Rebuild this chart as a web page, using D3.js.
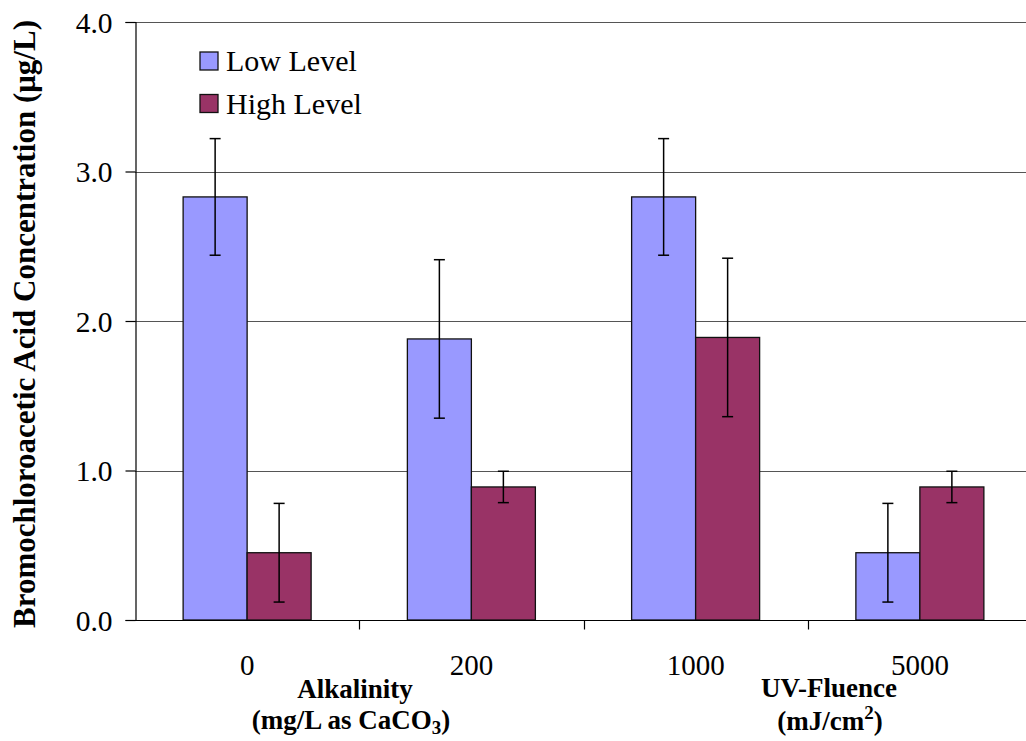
<!DOCTYPE html>
<html>
<head>
<meta charset="utf-8">
<script src="https://cdn.jsdelivr.net/npm/d3@7"></script>
<style>
  html, body { margin: 0; padding: 0; background: #fff; }
  svg { display: block; font-family: "Liberation Serif", "Times New Roman", serif; }
</style>
</head>
<body>
<svg id="chart" width="1026" height="741"></svg>
<script>
// Bromochloroacetic acid concentration by treatment level
const categories = ["0", "200", "1000", "5000"];
const seriesNames = ["Low Level", "High Level"];
const lowValues  = [2.83, 1.88, 2.83, 0.45];
const highValues = [0.45, 0.89, 1.89, 0.89];
const lowErrors  = [0.39, 0.53, 0.39, 0.33];
const highErrors = [0.33, 0.105, 0.53, 0.105];
const yTicks = [0, 1, 2, 3, 4];
const colors = ["#9999FF", "#993366"];

const svg = d3.select("#chart");
const plotLeft = 135, plotRight = 1032, plotTop = 22, plotBottom = 620;

const x = d3.scaleBand().domain(categories).range([plotLeft, plotRight]).paddingInner(0).paddingOuter(0);
const barW = 64;
const y = d3.scaleLinear().domain([0, 4]).range([plotBottom, plotTop]);

const rows = categories.map((c, i) => ({
  cat: c,
  vals: [
    { s: 0, v: lowValues[i], e: lowErrors[i] },
    { s: 1, v: highValues[i], e: highErrors[i] }
  ]
}));

// horizontal gridlines
svg.append("g").selectAll("line").data(yTicks.filter(d => d > 0)).join("line")
  .attr("x1", plotLeft).attr("x2", 1026)
  .attr("y1", d => Math.round(y(d)) + 0.5).attr("y2", d => Math.round(y(d)) + 0.5)
  .attr("stroke", "#555").attr("stroke-width", 1.2);

// bars
const groups = svg.append("g").selectAll("g").data(rows).join("g");
groups.selectAll("rect").data(d => d.vals.map(v => ({ ...v, cat: d.cat }))).join("rect")
  .attr("x", d => x(d.cat) + x.bandwidth() / 2 - barW + d.s * barW)
  .attr("y", d => y(d.v))
  .attr("width", barW)
  .attr("height", d => y(0) - y(d.v))
  .attr("fill", d => colors[d.s])
  .attr("stroke", "#111").attr("stroke-width", 1.3);

// error bars
const eb = groups.selectAll("g.err").data(d => d.vals.map(v => ({ ...v, cat: d.cat }))).join("g").attr("class", "err");
const cx = d => x(d.cat) + x.bandwidth() / 2 - barW / 2 + d.s * barW;
eb.append("line")
  .attr("x1", cx).attr("x2", cx)
  .attr("y1", d => y(d.v + d.e)).attr("y2", d => y(d.v - d.e))
  .attr("stroke", "#000").attr("stroke-width", 1.5);
eb.selectAll("line.cap").data(d => [{ ...d, t: d.v + d.e }, { ...d, t: d.v - d.e }]).join("line")
  .attr("class", "cap")
  .attr("x1", d => cx(d) - 5.5).attr("x2", d => cx(d) + 5.5)
  .attr("y1", d => y(d.t)).attr("y2", d => y(d.t))
  .attr("stroke", "#000").attr("stroke-width", 1.5);

// y axis
const yAxis = svg.append("g").attr("transform", `translate(${plotLeft + 0.5},0)`)
  .call(d3.axisLeft(y).tickValues(yTicks).tickFormat(d3.format(".1f")).tickSize(10).tickPadding(13));
yAxis.select(".domain").attr("stroke", "#000").attr("stroke-width", 1.2);
yAxis.selectAll(".tick line").attr("stroke", "#000").attr("stroke-width", 1.2);
yAxis.selectAll(".tick text").attr("font-size", 29.5).attr("font-family", "Liberation Serif").attr("fill", "#000").attr("dy", "0.35em");

// x axis with ticks at category boundaries
const xg = svg.append("g").attr("transform", `translate(0,${plotBottom + 0.5})`);
xg.append("line").attr("x1", plotLeft).attr("x2", 1026).attr("stroke", "#000").attr("stroke-width", 1.2);
const boundaries = categories.slice(1).map(c => x(c));
xg.selectAll("line.tk").data(boundaries).join("line").attr("class", "tk")
  .attr("x1", d => Math.round(d) + 0.5).attr("x2", d => Math.round(d) + 0.5)
  .attr("y1", 0).attr("y2", 9).attr("stroke", "#000").attr("stroke-width", 1.2);
xg.selectAll("text").data(categories).join("text")
  .attr("x", d => x(d) + x.bandwidth() / 2)
  .attr("y", 54)
  .attr("text-anchor", "middle")
  .attr("font-size", 29).attr("fill", "#000")
  .text(d => d);

// axis titles
const bold = sel => sel.attr("font-weight", "bold").attr("font-size", 27).attr("fill", "#000").attr("text-anchor", "middle");
svg.append("text").call(bold)
  .attr("font-size", 31)
  .attr("transform", "translate(35,324) rotate(-90)")
  .text("Bromochloroacetic Acid Concentration (\u03bcg/L)");

svg.append("text").call(bold).attr("x", 355).attr("y", 698).text("Alkalinity");
const t2 = svg.append("text").call(bold).attr("x", 351).attr("y", 729);
t2.append("tspan").text("(mg/L as CaCO");
t2.append("tspan").attr("font-size", 19).attr("dy", 5).text("3");
t2.append("tspan").attr("dy", -5).text(")");

svg.append("text").call(bold).attr("x", 829).attr("y", 697).text("UV-Fluence");
const t4 = svg.append("text").call(bold).attr("x", 830).attr("y", 730);
t4.append("tspan").text("(mJ/cm");
t4.append("tspan").attr("font-size", 19).attr("dy", -11).text("2");
t4.append("tspan").attr("dy", 11).text(")");

// legend
const legend = svg.append("g").selectAll("g").data(seriesNames).join("g")
  .attr("transform", (d, i) => `translate(200,${52 + i * 42.5})`);
legend.append("rect").attr("width", 18).attr("height", 18)
  .attr("fill", (d, i) => colors[i]).attr("stroke", "#111").attr("stroke-width", 1.3);
legend.append("text").attr("x", 26).attr("y", 19).attr("font-size", 30).attr("fill", "#000").text(d => d);
</script>
</body>
</html>
